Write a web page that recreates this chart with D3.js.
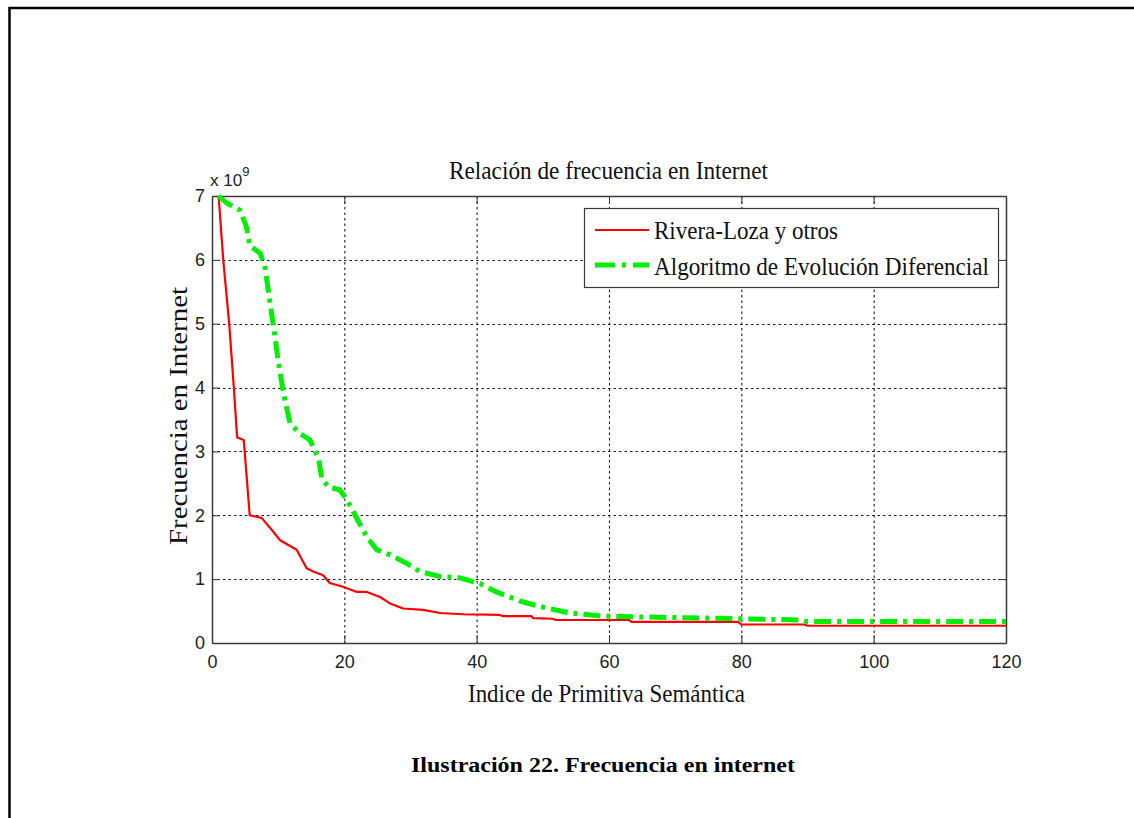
<!DOCTYPE html>
<html>
<head>
<meta charset="utf-8">
<script src="https://cdn.jsdelivr.net/npm/d3@7"></script>
<style>
  html, body { margin: 0; padding: 0; background: #fff; }
  svg { display: block; }
</style>
</head>
<body>
<svg id="chart" width="1134" height="818"></svg>
<script>
// ---- data (values in units of 1e9) ----
const xTicks = [0, 20, 40, 60, 80, 100, 120];
const yTicks = [0, 1, 2, 3, 4, 5, 6, 7];
const seriesNames = ["Rivera-Loza y otros", "Algoritmo de Evolución Diferencial"];

const riveraX = [1, 1.7, 2.6, 3.3, 3.8, 4.8, 5.7, 7.5, 8.8, 10.3, 12.8, 14.3, 15.3, 16.8, 17.8, 19.8, 21.9, 23.4, 25.4, 26.9, 28.9, 31.9, 34.5, 38, 43.5, 44, 48.3, 48.5, 51.5, 52, 63, 63.5, 79.5, 80, 89.5, 90, 120];
const riveraY = [7.0, 6.0, 5.0, 4.0, 3.22, 3.18, 2.0, 1.96, 1.8, 1.61, 1.46, 1.17, 1.12, 1.06, 0.94, 0.88, 0.80, 0.80, 0.72, 0.62, 0.54, 0.52, 0.47, 0.45, 0.44, 0.42, 0.42, 0.39, 0.38, 0.36, 0.36, 0.33, 0.33, 0.29, 0.29, 0.27, 0.27];

const evolX = [1, 2.2, 4.2, 5.2, 5.7, 7.3, 8, 8.5, 9.3, 10, 10.8, 11.8, 13.3, 14.8, 16.1, 16.6, 17.6, 19.3, 20.4, 21.9, 23.4, 24.9, 26.9, 29.4, 31.4, 34.5, 37.5, 40.5, 43, 46.5, 49.6, 54.1, 59, 69, 80, 89, 90, 120];
const evolY = [7.0, 6.89, 6.78, 6.52, 6.23, 6.1, 5.89, 5.53, 4.95, 4.43, 3.91, 3.44, 3.28, 3.18, 2.89, 2.58, 2.44, 2.40, 2.24, 1.95, 1.66, 1.46, 1.38, 1.25, 1.12, 1.04, 1.02, 0.93, 0.80, 0.66, 0.57, 0.47, 0.42, 0.40, 0.38, 0.36, 0.335, 0.335];

const titleText = "Relación de frecuencia en Internet";
const xLabelText = "Indice de Primitiva Semántica";
const yLabelText = "Frecuencia en Internet";
const captionText = "Ilustración 22. Frecuencia en internet";

// ---- layout ----
const svg = d3.select("#chart");
const L = 212, R = 1006, T = 196, B = 643;
const x = d3.scaleLinear().domain([0, 120]).range([L, R]);
const y = d3.scaleLinear().domain([0, 7]).range([B, T]);

const serif = "'Liberation Serif', 'Times New Roman', serif";
const sans = "'Liberation Sans', Arial, sans-serif";

// outer page frame (top and left only)
svg.append("path")
  .attr("d", "M9.5,818 V8 H1134")
  .attr("fill", "none").attr("stroke", "#000").attr("stroke-width", 2.5);

// plot background
svg.append("rect").attr("x", L).attr("y", T).attr("width", R - L).attr("height", B - T).attr("fill", "#fff");

// grid
const grid = svg.append("g").attr("stroke", "#1a1a1a").attr("stroke-width", 1.1).attr("stroke-dasharray", "2.5,3");
grid.selectAll("line.gx").data(xTicks.filter(d => d > 0 && d < 120)).join("line")
  .attr("x1", d => x(d) + 0.5).attr("x2", d => x(d) + 0.5).attr("y1", T).attr("y2", B);
grid.selectAll("line.gy").data(yTicks.filter(d => d > 0 && d < 7)).join("line")
  .attr("y1", d => Math.round(y(d)) + 0.5).attr("y2", d => Math.round(y(d)) + 0.5).attr("x1", L).attr("x2", R);

// axes
function styleAxis(g) {
  g.selectAll("path.domain").attr("stroke", "#3a3a3a").attr("stroke-width", 1.5);
  g.selectAll(".tick line").attr("stroke", "#3a3a3a").attr("stroke-width", 1);
  g.selectAll(".tick text").attr("fill", "#222").style("font-family", sans).style("font-size", "18px");
}
svg.append("g").attr("transform", `translate(0,${B})`)
  .call(d3.axisBottom(x).tickValues(xTicks).tickFormat(d3.format("d")).tickSize(-8).tickSizeOuter(0).tickPadding(12))
  .call(styleAxis);
svg.append("g").attr("transform", `translate(0,${T})`)
  .call(d3.axisTop(x).tickValues(xTicks).tickFormat("").tickSize(-8).tickSizeOuter(0))
  .call(styleAxis);
svg.append("g").attr("transform", `translate(${L},0)`)
  .call(d3.axisLeft(y).tickValues(yTicks).tickFormat(d3.format("d")).tickSize(-8).tickSizeOuter(0).tickPadding(7))
  .call(styleAxis);
svg.append("g").attr("transform", `translate(${R},0)`)
  .call(d3.axisRight(y).tickValues(yTicks).tickFormat("").tickSize(-8).tickSizeOuter(0))
  .call(styleAxis);

// exponent label
const expo = svg.append("text").attr("x", 210).attr("y", 186)
  .style("font-family", sans).style("font-size", "17px").attr("fill", "#222");
expo.append("tspan").text("x 10");
expo.append("tspan").attr("dy", -10).style("font-size", "13px").text("9");

// lines
const line = d3.line().x(d => x(d[0])).y(d => y(d[1]));

svg.append("path").datum(riveraX.map((v, i) => [v, riveraY[i]]))
  .attr("d", line).attr("fill", "none").attr("stroke", "#ff0000").attr("stroke-width", 2.2)
  .attr("stroke-linejoin", "round");
svg.append("path").datum(evolX.map((v, i) => [v, evolY[i]]))
  .attr("d", line).attr("fill", "none").attr("stroke", "#00ee00").attr("stroke-width", 5)
  .attr("stroke-dasharray", "17,6,4,6");

// legend
const lg = svg.append("g");
lg.append("rect").attr("x", 584.5).attr("y", 208.5).attr("width", 414).attr("height", 79)
  .attr("fill", "#fff").attr("stroke", "#3a3a3a").attr("stroke-width", 1.2);
lg.append("line").attr("x1", 595).attr("x2", 649).attr("y1", 230).attr("y2", 230)
  .attr("stroke", "#ff0000").attr("stroke-width", 2.2);
lg.append("line").attr("x1", 595).attr("x2", 649).attr("y1", 265).attr("y2", 265)
  .attr("stroke", "#00ee00").attr("stroke-width", 5).attr("stroke-dasharray", "20,7,4,7");
lg.append("text").attr("x", 654).attr("y", 239).text(seriesNames[0])
  .style("font-family", serif).style("font-size", "26px").attr("fill", "#111")
  .attr("textLength", 184).attr("lengthAdjust", "spacingAndGlyphs");
lg.append("text").attr("x", 654).attr("y", 275).text(seriesNames[1])
  .style("font-family", serif).style("font-size", "26px").attr("fill", "#111")
  .attr("textLength", 335).attr("lengthAdjust", "spacingAndGlyphs");

// title and labels
svg.append("text").attr("x", 449).attr("y", 179).text(titleText)
  .style("font-family", serif).style("font-size", "26px").attr("fill", "#111")
  .attr("textLength", 319).attr("lengthAdjust", "spacingAndGlyphs");
svg.append("text").attr("x", 468).attr("y", 702).text(xLabelText)
  .style("font-family", serif).style("font-size", "26px").attr("fill", "#111")
  .attr("textLength", 277).attr("lengthAdjust", "spacingAndGlyphs");
svg.append("text").attr("transform", "translate(187,545) rotate(-90)").text(yLabelText)
  .style("font-family", serif).style("font-size", "26px").attr("fill", "#111")
  .attr("textLength", 258).attr("lengthAdjust", "spacingAndGlyphs");

// caption
svg.append("text").attr("x", 411).attr("y", 772).text(captionText)
  .style("font-family", serif).style("font-size", "20px").style("font-weight", "bold").attr("fill", "#000")
  .attr("textLength", 384).attr("lengthAdjust", "spacingAndGlyphs");
</script>
</body>
</html>
